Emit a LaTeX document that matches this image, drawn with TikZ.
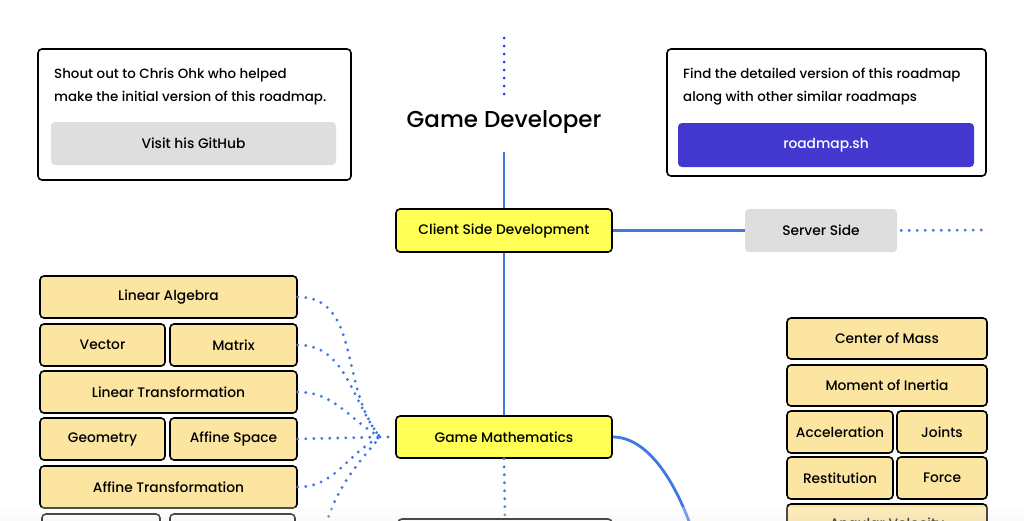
\documentclass[tikz,border=0pt]{standalone}
\usepackage{fontspec}
\setmainfont{Poppins}[UprightFont=* Medium]
\definecolor{topicyellow}{RGB}{255,255,85}
\definecolor{subyellow}{RGB}{252,229,160}
\definecolor{btngrey}{RGB}{222,222,222}
\definecolor{btnblue}{RGB}{66,56,208}
\definecolor{linkblue}{RGB}{64,120,224}
\definecolor{darkblue}{RGB}{35,60,240}

\begin{document}
\begin{tikzpicture}[x=1pt, y=-1pt,
    box/.style={draw=black, line width=1.6pt, rounded corners=4pt, minimum height=42pt, inner sep=0pt, font=\fontsize{13.8}{16}\selectfont},
    topic/.style={box, fill=topicyellow, minimum width=216pt},
    sub/.style={box, fill=subyellow},
    subwide/.style={sub, minimum width=257pt},
    subright/.style={sub, minimum width=200pt},
    plainbox/.style={box, fill=white},
    note/.style={draw=black, line width=1.6pt, rounded corners=4pt, fill=white},
    notetext/.style={anchor=north west, align=left, inner sep=0pt, font=\fontsize{13.4}{23}\selectfont},
    btn/.style={rounded corners=4pt, minimum height=43pt, font=\fontsize{13.8}{16}\selectfont},
    link/.style={linkblue, line width=2.8pt},
    dots/.style={linkblue, line width=3.2pt, line cap=round, dash pattern=on 0pt off 8pt},
    darkdots/.style={darkblue, line width=3pt, line cap=round, dash pattern=on 0pt off 8pt}]

    \useasboundingbox (0,0) rectangle (1024,520);
    \clip (0,0) rectangle (1024,520);

    % notes at the top
    \node[note, minimum width=313pt, minimum height=131pt] (shout) at (194.5,114.5) {};
    \node[notetext] (shouttxt) at (54,68) {Shout out to Chris Ohk who helped\\make the initial version of this roadmap.};
    \node[btn, fill=btngrey, minimum width=285pt] (github) at (193.5,143.5) {Visit his GitHub};

    \node[note, minimum width=319pt, minimum height=127pt] (find) at (826.5,112.5) {};
    \node[notetext] (findtxt) at (683,68) {Find the detailed version of this roadmap\\along with other similar roadmaps};
    \node[btn, fill=btnblue, text=white, minimum width=296pt, minimum height=44pt] (rmsh) at (826,145) {roadmap.sh};

    % main line
    \coordinate (top) at (504,38);
    \node[font=\fontsize{23}{25}\selectfont, minimum height=54pt, inner sep=0pt] (title) at (504,122) {Game Developer};
    \node[topic, minimum height=43pt] (csd) at (504,230.5) {Client Side Development};
    \node[btn, fill=btngrey, minimum width=152pt] (server) at (821,230.5) {Server Side};
    \coordinate (srvend) at (983,230);
    \node[topic] (gm) at (504,437) {Game Mathematics};
    \node[box, fill=white, minimum width=214pt] (next) at (505,540) {};

    \draw[darkdots] (top) -- ([yshift=-2pt]title.north);
    \draw[link] ([yshift=-3pt]title.south) -- (csd.north);
    \draw[link] (csd.south) -- (gm.north);
    \draw[link] (csd.east) -- (server.west);
    \draw[dots] ([xshift=4pt]server.east) -- (srvend);
    \draw[dots] (gm.south) -- (next.north);

    % mathematics
    \node[subwide] (la) at (168.5,297) {Linear Algebra};
    \node[sub, minimum width=125pt] (vec) at (102.5,345) {Vector};
    \node[sub, minimum width=127pt] (mat) at (233.5,345) {Matrix};
    \node[subwide] (lt) at (168.5,392) {Linear Transformation};
    \node[sub, minimum width=125pt] (geo) at (102.5,439) {Geometry};
    \node[sub, minimum width=127pt] (as) at (233.5,439) {Affine Space};
    \node[subwide] (at) at (168.5,487) {Affine Transformation};
    \node[plainbox, minimum width=118pt] (low1) at (101,535) {};
    \node[plainbox, minimum width=125pt] (low2) at (232.5,535) {};

    \coordinate (hub) at (380,437);
    \coordinate (offb) at (326,524);
    \draw[dots] (la.east) to[out=0,in=130] (hub);
    \draw[dots] (mat.east) to[out=0,in=128] (hub);
    \draw[dots] (lt.east) to[out=0,in=150] (hub);
    \draw[dots] (as.east) -- (hub);
    \draw[dots] (at.east) to[out=0,in=207] (hub);
    \draw[dots] (offb) to[out=72,in=230] (hub);
    \draw[dots] (hub) -- (gm.west);

    % physics
    \node[subright, minimum height=41pt] (com) at (887,338.5) {Center of Mass};
    \node[subright, minimum height=41pt] (moi) at (887,385.5) {Moment of Inertia};
    \node[sub, minimum width=106pt] (acc) at (840,432) {Acceleration};
    \node[sub, minimum width=90pt] (joints) at (942,432) {Joints};
    \node[sub, minimum width=106pt] (rest) at (840,478) {Restitution};
    \node[sub, minimum width=90pt] (force) at (942,478) {Force};
    \node[subright] (angvel) at (887,525) {Angular Velocity};

    \coordinate (curveend) at (690,524);
    \draw[link] (gm.east) .. controls (645,437) and (672,475) .. (curveend);

    % fade at the bottom edge
    \shade[top color=white, bottom color=black!8, opacity=0.3] (0,507) rectangle (1024,520);

\end{tikzpicture}
\end{document}
